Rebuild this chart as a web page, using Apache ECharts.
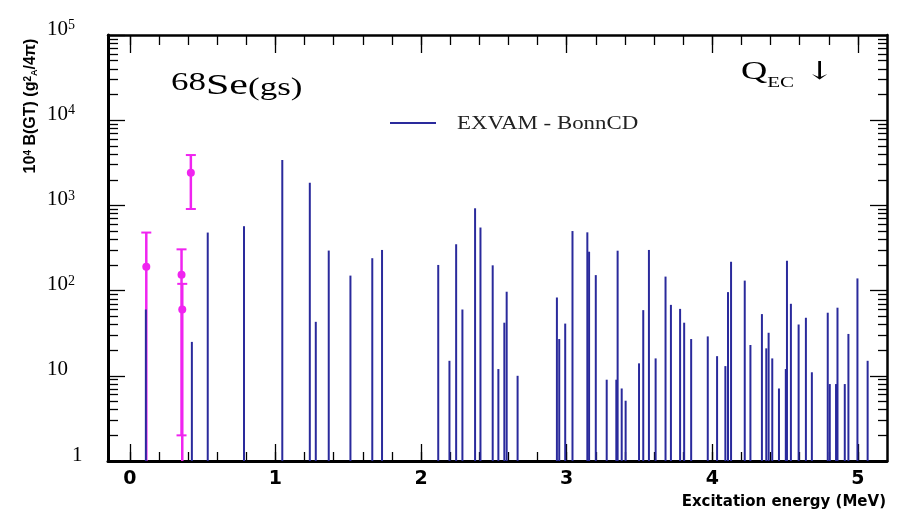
<!DOCTYPE html>
<html>
<head>
<meta charset="utf-8">
<script src="https://cdn.jsdelivr.net/npm/echarts@6/dist/echarts.min.js"></script>
<style>html,body{margin:0;padding:0;background:#fff;}</style>
</head>
<body>
<div id="main" style="width:898px;height:509px;"></div>
<script>
// EXVAM - BonnCD: excitation energy (MeV) and 10^4 B(GT)
var energies = [0.11, 0.426, 0.535, 0.784, 1.047, 1.236, 1.277, 1.366, 1.515, 1.665, 1.732,
  2.118, 2.195, 2.241, 2.284, 2.371, 2.408, 2.492, 2.531, 2.572, 2.588, 2.663,
  2.933, 2.949, 2.99, 3.04, 3.142, 3.154, 3.2, 3.275, 3.341, 3.35, 3.378, 3.405,
  3.497, 3.526, 3.565, 3.611, 3.679, 3.716, 3.779, 3.807, 3.855, 3.969,
  4.033, 4.09, 4.108, 4.129, 4.223, 4.262, 4.341, 4.371, 4.387, 4.412, 4.458,
  4.505, 4.513, 4.54, 4.593, 4.643, 4.684, 4.793, 4.807, 4.85, 4.86, 4.91, 4.935,
  4.997, 5.067];
var strengths = [60, 25, 480, 570, 3400, 1850, 43, 295, 150, 240, 300,
  200, 15, 350, 60, 925, 550, 198, 12, 42, 97, 10,
  83, 27, 41, 500, 483, 286, 152, 9, 9, 294, 7.1, 5.1,
  14, 59, 300, 16, 146, 68, 61, 42, 27, 29,
  17, 13, 96, 218, 131, 23, 53, 21, 32, 16, 7.1,
  12, 224, 70, 40, 48, 11, 55, 8, 8, 63, 8, 31,
  139, 15];

// experiment (magenta) with error bars
var expEnergy = [0.113, 0.355, 0.36, 0.419];
var expValue = [191, 153, 60, 2420];
var expLow = [1, 2, 1, 907];
var expHigh = [480, 305, 120, 3900];

var xMajor = [0, 1, 2, 3, 4, 5];
var xMinor = [0, 0.2, 0.4, 0.6, 0.8, 1, 1.2, 1.4, 1.6, 1.8, 2, 2.2, 2.4, 2.6, 2.8,
  3, 3.2, 3.4, 3.6, 3.8, 4, 4.2, 4.4, 4.6, 4.8, 5];
var yMajor = [1, 10, 100, 1000, 10000, 100000];
var yMinor = [];
for (var k = 0; k < 5; k++) {
  for (var m = 2; m <= 9; m++) yMinor.push(m * Math.pow(10, k));
}

var blue = '#2a2a9c';
var pink = '#f024f0';
var serif = 'Liberation Serif';

var myChart = echarts.init(document.getElementById('main'));

function xAx(pos, vals, len, line) {
  return {
    type: 'value', min: -0.15, max: 5.2, position: pos,
    axisLine: { show: line > 0, onZero: false, lineStyle: { color: '#000', width: line } },
    axisTick: { show: true, inside: true, length: len, customValues: vals, lineStyle: { color: '#000', width: 1.3 } },
    axisLabel: { show: false },
    splitLine: { show: false }
  };
}
function yAx(pos, vals, len, line) {
  return {
    type: 'log', logBase: 10, min: 1, max: 100000, position: pos,
    axisLine: { show: line > 0, onZero: false, lineStyle: { color: '#000', width: line } },
    axisTick: { show: true, inside: true, length: len, customValues: vals, lineStyle: { color: '#000', width: 1.3 } },
    axisLabel: { show: false },
    splitLine: { show: false }
  };
}

var xMain = xAx('bottom', xMajor, 17, 3);
xMain.axisLabel = {
  show: true, customValues: xMajor, margin: 9,
  fontFamily: 'DejaVu Sans', fontWeight: 'bold', fontSize: 19, color: '#000'
};
var yMain = yAx('left', yMajor, 17, 3);
yMain.axisLabel = {
  show: true, customValues: yMajor, margin: 61, align: 'left',
  showMinLabel: true, showMaxLabel: true,
  padding: [0, 0, 12, 0],
  formatter: function (v) {
    if (v === 1) return '{one|1}';
    if (v === 10) return '{b|10}';
    return '{b|10}{s|' + Math.round(Math.log10(v)) + '}';
  },
  rich: {
    b: { fontFamily: serif, fontSize: 21, color: '#000' },
    s: { fontFamily: serif, fontSize: 14, color: '#000', verticalAlign: 'top' },
    one: { fontFamily: serif, fontSize: 21, color: '#000', padding: [0, 0, 0, 25] }
  }
};

var option = {
  animation: false,
  backgroundColor: '#fff',
  grid: { left: 108, right: 11, top: 35, bottom: 48, containLabel: false },
  graphic: [
    {
      // nucleus label
      type: 'text', x: 171, y: 86, scaleX: 1.4,
      style: {
        text: '{a|68}{b|Se}{c|(gs)}',
        textVerticalAlign: 'middle',
        rich: {
          a: { font: '25px "Liberation Serif"', fill: '#000', verticalAlign: 'top' },
          b: { font: '30px "Liberation Serif"', fill: '#000', verticalAlign: 'bottom' },
          c: { font: '25px "Liberation Serif"', fill: '#000', verticalAlign: 'bottom' }
        }
      }
    },
    {
      type: 'text', x: 741, y: 75, scaleX: 1.4,
      style: {
        text: '{q|Q}{e|EC}{ar| ↓}',
        textVerticalAlign: 'middle',
        rich: {
          q: { font: '26px "Liberation Serif"', fill: '#000', verticalAlign: 'top', padding: [0, 0, 5, 0] },
          e: { font: '15px "Liberation Serif"', fill: '#000', verticalAlign: 'bottom' },
          ar: { font: '25px "DejaVu Serif"', fill: '#000', verticalAlign: 'top' }
        }
      }
    },
    {
      // legend
      type: 'line', shape: { x1: 390, y1: 123, x2: 436, y2: 123 },
      style: { stroke: blue, lineWidth: 2 }
    },
    {
      type: 'text', x: 457, y: 124, scaleX: 1.27,
      style: {
        text: 'EXVAM - BonnCD', font: '18px "Liberation Serif"', fill: '#222',
        textVerticalAlign: 'middle'
      }
    },
    {
      type: 'text', x: 31, y: 106, rotation: Math.PI / 2,
      style: {
        text: '10{s|4} B(GT) (g{s|2}{d|A}/4π)',
        font: 'bold 16px "Liberation Sans"', fill: '#000',
        textAlign: 'center', textVerticalAlign: 'middle',
        rich: {
          s: { font: 'bold 10px "Liberation Sans"', fill: '#000', verticalAlign: 'top' },
          d: { font: 'bold 9px "Liberation Sans"', fill: '#000', verticalAlign: 'bottom' }
        }
      }
    },
    {
      type: 'text', x: 886, y: 502,
      style: {
        text: 'Excitation energy (MeV)',
        font: 'bold 15px "DejaVu Sans"', fill: '#000',
        textAlign: 'right', textVerticalAlign: 'middle'
      }
    }
  ],
  xAxis: [
    xMain,
    xAx('bottom', xMinor, 9, 0),
    xAx('top', xMajor, 18, 2.5),
    xAx('top', xMinor, 10, 0)
  ],
  yAxis: [
    yMain,
    yAx('left', yMinor, 10, 0),
    yAx('right', yMajor, 17, 2.5),
    yAx('right', yMinor, 9, 0)
  ],
  series: [
    {
      type: 'custom', name: 'experiment', z: 2,
      data: expEnergy.map(function (e, i) { return [e, expValue[i], expLow[i], expHigh[i]]; }),
      encode: { x: 0, y: 1 },
      itemStyle: { color: pink },
      renderItem: function (params, api) {
        var x = api.value(0);
        var p = api.coord([x, api.value(1)]);
        var lo = api.coord([x, api.value(2)]);
        var hi = api.coord([x, api.value(3)]);
        var kids = [
          { type: 'line', shape: { x1: p[0], y1: lo[1], x2: p[0], y2: hi[1] }, style: { stroke: pink, lineWidth: 2.5 } },
          { type: 'line', shape: { x1: p[0] - 5, y1: hi[1], x2: p[0] + 5, y2: hi[1] }, style: { stroke: pink, lineWidth: 2 } },
          { type: 'circle', shape: { cx: p[0], cy: p[1], r: 4 }, style: { fill: pink } }
        ];
        if (api.value(2) > 1) {
          kids.push({ type: 'line', shape: { x1: p[0] - 5, y1: lo[1], x2: p[0] + 5, y2: lo[1] }, style: { stroke: pink, lineWidth: 2 } });
        }
        return { type: 'group', children: kids };
      }
    },
    {
      type: 'custom', name: 'EXVAM - BonnCD', z: 3,
      data: energies.map(function (e, i) { return [e, strengths[i]]; }),
      encode: { x: 0, y: 1 },
      itemStyle: { color: blue },
      renderItem: function (params, api) {
        var top = api.coord([api.value(0), api.value(1)]);
        var base = api.coord([api.value(0), 1]);
        return {
          type: 'line',
          shape: { x1: top[0], y1: base[1], x2: top[0], y2: top[1] },
          style: { stroke: blue, lineWidth: 2 }
        };
      }
    }
  ]
};

myChart.setOption(option);
</script>
</body>
</html>
